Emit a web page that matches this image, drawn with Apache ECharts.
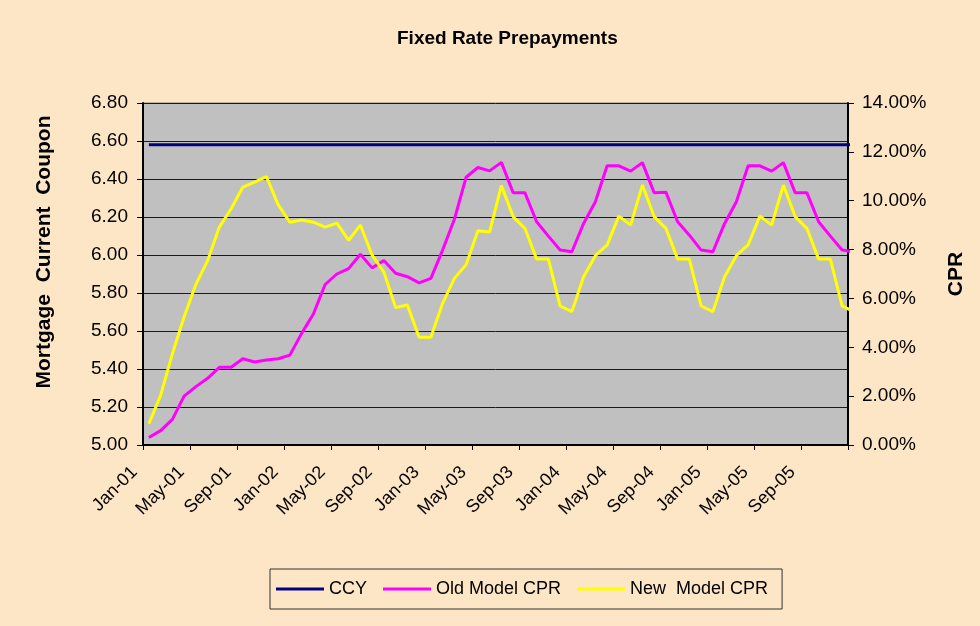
<!DOCTYPE html>
<html>
<head>
<meta charset="utf-8">
<script src="https://cdn.jsdelivr.net/npm/echarts@6/dist/echarts.min.js"></script>
<style>
html,body{margin:0;padding:0;background:#FDE6C5;}
#chart{width:980px;height:626px;}
</style>
</head>
<body>
<div id="chart"></div>
<script>
// Months Jan-01 .. Jan-06 (last point lies past the axis end and is clipped)
var months = ['Jan-01','Feb-01','Mar-01','Apr-01','May-01','Jun-01','Jul-01','Aug-01','Sep-01','Oct-01','Nov-01','Dec-01',
  'Jan-02','Feb-02','Mar-02','Apr-02','May-02','Jun-02','Jul-02','Aug-02','Sep-02','Oct-02','Nov-02','Dec-02',
  'Jan-03','Feb-03','Mar-03','Apr-03','May-03','Jun-03','Jul-03','Aug-03','Sep-03','Oct-03','Nov-03','Dec-03',
  'Jan-04','Feb-04','Mar-04','Apr-04','May-04','Jun-04','Jul-04','Aug-04','Sep-04','Oct-04','Nov-04','Dec-04',
  'Jan-05','Feb-05','Mar-05','Apr-05','May-05','Jun-05','Jul-05','Aug-05','Sep-05','Oct-05','Nov-05','Dec-05','Jan-06'];

var tickLabels = ['Jan-01','May-01','Sep-01','Jan-02','May-02','Sep-02','Jan-03','May-03','Sep-03',
  'Jan-04','May-04','Sep-04','Jan-05','May-05','Sep-05'];

// Mortgage current coupon (left axis)
var ccy = [6.58,6.58,6.58,6.58,6.58,6.58,6.58,6.58,6.58,6.58,6.58,6.58,
  6.58,6.58,6.58,6.58,6.58,6.58,6.58,6.58,6.58,6.58,6.58,6.58,
  6.58,6.58,6.58,6.58,6.58,6.58,6.58,6.58,6.58,6.58,6.58,6.58,
  6.58,6.58,6.58,6.58,6.58,6.58,6.58,6.58,6.58,6.58,6.58,6.58,
  6.58,6.58,6.58,6.58,6.58,6.58,6.58,6.58,6.58,6.58,6.58,6.58,6.58];

// CPR in percent (right axis)
var oldModelCPR = [0.31,0.59,1.05,2.00,2.39,2.73,3.18,3.18,3.53,3.40,3.48,3.53,
  3.68,4.57,5.36,6.57,7.00,7.22,7.81,7.25,7.55,7.03,6.89,6.64,
  6.82,7.98,9.24,10.96,11.36,11.22,11.57,10.33,10.33,9.14,8.55,7.98,
  7.91,9.07,9.96,11.43,11.43,11.21,11.56,10.33,10.35,9.14,8.59,7.98,
  7.91,9.07,9.96,11.43,11.43,11.21,11.56,10.33,10.33,9.14,8.55,7.98,7.91];

var newModelCPR = [0.87,2.03,3.73,5.25,6.57,7.55,8.92,9.67,10.56,10.76,10.99,9.84,
  9.12,9.21,9.12,8.92,9.08,8.38,9.00,7.77,7.08,5.63,5.73,4.41,
  4.41,5.80,6.82,7.38,8.77,8.72,10.62,9.35,8.87,7.61,7.61,5.69,
  5.46,6.89,7.75,8.19,9.37,9.00,10.64,9.35,8.87,7.61,7.61,5.69,
  5.46,6.89,7.75,8.19,9.37,9.00,10.64,9.35,8.87,7.61,7.61,5.69,5.46];

function pts(arr){ return arr.map(function(v,i){ return [i+0.5, v]; }); }

var FONT = '"Liberation Sans", Arial, sans-serif';
var chart = echarts.init(document.getElementById('chart'), null, {renderer:'canvas'});
chart.setOption({
  backgroundColor: '#FDE6C5',
  animation: false,
  textStyle: {fontFamily: FONT, color: '#000'},
  title: {
    text: 'Fixed Rate Prepayments',
    left: 392, top: 24,
    textStyle: {fontFamily: FONT, fontSize: 19, fontWeight: 'bold', color: '#000'}
  },
  legend: {
    left: 270, top: 569,
    padding: [11, 14, 11, 6],
    itemGap: 16,
    itemWidth: 48, itemHeight: 3,
    icon: 'rect',
    borderColor: '#333', borderWidth: 1,
    textStyle: {fontFamily: FONT, fontSize: 18, color: '#000'},
    data: ['CCY', 'Old Model CPR', 'New  Model CPR']
  },
  grid: {
    left: 143, right: 132, top: 103, bottom: 181,
    show: true, backgroundColor: '#C0C0C0', borderColor: '#808080', borderWidth: 1,
    containLabel: false
  },
  xAxis: {
    type: 'value', min: 0, max: 60, interval: 4,
    axisLine: {show: true, lineStyle: {color: '#000', width: 2}},
    axisTick: {show: true, length: 5, lineStyle: {color: '#000'}},
    splitLine: {show: false},
    axisLabel: {
      rotate: 45, margin: 16, fontSize: 18, fontFamily: FONT, color: '#000',
      padding: [0, 12, 0, 0],
      formatter: function(v){ var k = v/4; return tickLabels[k] !== undefined ? tickLabels[k] : ''; }
    }
  },
  yAxis: [{
    type: 'value', min: 5, max: 6.8, interval: 0.2, position: 'left',
    name: 'Mortgage  Current  Coupon', nameLocation: 'middle', nameGap: 88, nameRotate: 90,
    nameTextStyle: {fontFamily: FONT, fontSize: 21, fontWeight: 'bold', color: '#000', padding: [0, 0, 0, 44]},
    axisLine: {show: true, lineStyle: {color: '#000', width: 2}},
    axisTick: {show: true, length: 6, lineStyle: {color: '#000'}},
    splitLine: {show: true, lineStyle: {color: '#1a1a1a', width: 1}},
    axisLabel: {margin: 15, fontSize: 19, fontFamily: FONT, color: '#000',
      formatter: function(v){ return v.toFixed(2); }}
  }, {
    type: 'value', min: 0, max: 14, interval: 2, position: 'right',
    name: 'CPR', nameLocation: 'middle', nameGap: 98, nameRotate: 90,
    nameTextStyle: {fontFamily: FONT, fontSize: 21, fontWeight: 'bold', color: '#000'},
    axisLine: {show: true, lineStyle: {color: '#000', width: 2}},
    axisTick: {show: true, length: 6, lineStyle: {color: '#000'}},
    splitLine: {show: false},
    axisLabel: {margin: 14, fontSize: 19, fontFamily: FONT, color: '#000',
      formatter: function(v){ return v.toFixed(2) + '%'; }}
  }],
  series: [{
    name: 'CCY', type: 'line', yAxisIndex: 0, data: pts(ccy),
    showSymbol: false, symbol: 'none', clip: true,
    itemStyle: {color: '#000080'}, lineStyle: {color: '#000080', width: 3}
  }, {
    name: 'Old Model CPR', type: 'line', yAxisIndex: 1, data: pts(oldModelCPR),
    showSymbol: false, symbol: 'none', clip: true,
    itemStyle: {color: '#FF00FF'}, lineStyle: {color: '#FF00FF', width: 3}
  }, {
    name: 'New  Model CPR', type: 'line', yAxisIndex: 1, data: pts(newModelCPR),
    showSymbol: false, symbol: 'none', clip: true,
    itemStyle: {color: '#FFFF00'}, lineStyle: {color: '#FFFF00', width: 3}
  }]
});
</script>
</body>
</html>
